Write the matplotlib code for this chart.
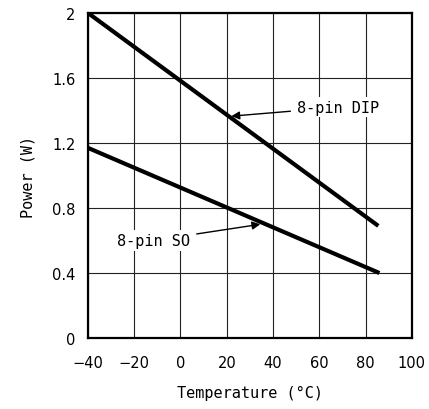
import matplotlib
matplotlib.use("Agg")
import matplotlib.pyplot as plt

# Data
temp_dip = [-40, 85.5]
power_dip = [2.0, 0.69]
temp_so = [-40, 86]
power_so = [1.17, 0.40]
x_ticks = [-40, -20, 0, 20, 40, 60, 80, 100]
y_ticks = [0, 0.4, 0.8, 1.2, 1.6, 2.0]
y_tick_labels = ["0", "0.4", "0.8", "1.2", "1.6", "2"]

plt.rcParams['font.family'] = ['DejaVu Sans']
MONO = ['DejaVu Sans Mono', 'DejaVu Sans']

fig = plt.figure(figsize=(4.29, 4.10), dpi=100)
ax = fig.add_axes([0.205, 0.173, 0.755, 0.793])

ax.set_xlim(-40, 100)
ax.set_ylim(0, 2)
ax.set_xticks(x_ticks)
ax.set_xticklabels([str(t).replace('-', '\u2212') for t in x_ticks])
ax.set_yticks(y_ticks)
ax.set_yticklabels(y_tick_labels)
ax.tick_params(length=0, labelsize=10.5, pad=9)
ax.tick_params(axis='x', pad=12)
ax.grid(True, color='#222222', linewidth=0.8)
ax.set_axisbelow(True)
for s in ax.spines.values():
    s.set_linewidth(1.6)

ax.plot(temp_dip, power_dip, color='black', linewidth=3.0, solid_capstyle='butt', zorder=3)
ax.plot(temp_so, power_so, color='black', linewidth=3.0, solid_capstyle='butt', zorder=3)

bbox = dict(facecolor='white', edgecolor='none', pad=2)
ax.annotate('8-pin DIP', xy=(22, 1.365), xytext=(50.5, 1.42),
            fontsize=11, family=MONO, va='center', ha='left', bbox=bbox,
            arrowprops=dict(arrowstyle='-|>', color='black', lw=1.0,
                            shrinkA=3, shrinkB=0, mutation_scale=12), zorder=4)
ax.annotate('8-pin SO', xy=(34.5, 0.70), xytext=(-27.5, 0.60),
            fontsize=11, family=MONO, va='center', ha='left', bbox=bbox,
            arrowprops=dict(arrowstyle='-|>', color='black', lw=1.0,
                            shrinkA=3, shrinkB=0, mutation_scale=12), zorder=4)

ax.set_xlabel('Temperature (\u00b0C)', fontsize=11, family=MONO, labelpad=11)
ax.set_ylabel('Power (W)', fontsize=11, family=MONO, labelpad=12)

fig.savefig('out.png', dpi=100)
